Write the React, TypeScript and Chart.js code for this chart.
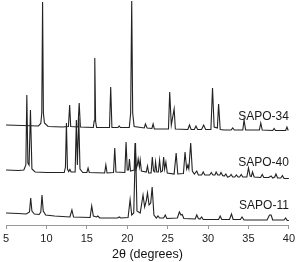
import React, { useEffect, useRef } from "react";
import { Chart, registerables } from "chart.js";

Chart.register(...registerables);

// 2θ (degrees), intensity (a.u., stacked display offsets included)
const sapo34: [number, number][] = [
  [5, 100], [7, 99.5], [9.0, 99], [9.3, 101.5], [9.42, 112], [9.52, 223], [9.62, 112], [9.75, 102], [10.2, 98.5],
  [12.0, 98], [12.72, 98.5], [12.87, 120], [13.0, 98.5], [13.9, 98], [14.05, 122], [14.2, 98],
  [15.8, 97.5], [15.9, 104], [15.98, 167], [16.08, 104], [16.2, 97.5], [17.8, 97.5], [17.95, 138], [18.1, 97.5],
  [18.85, 97.5], [19.0, 99], [19.15, 97.5],
  [20.25, 97.5], [20.42, 112], [20.55, 224], [20.67, 112], [20.85, 98.5], [22.1, 97], [22.25, 101], [22.45, 97],
  [23.05, 96.5], [23.2, 101], [23.35, 96], [25.1, 96], [25.25, 133], [25.45, 100], [25.8, 116], [25.95, 96],
  [27.5, 95.5], [27.7, 100], [27.9, 95.5], [28.3, 95.5], [28.5, 99], [28.7, 95.5], [29.2, 95.5], [29.45, 100],
  [29.7, 95.5], [30.35, 95.5], [30.55, 137], [30.75, 98], [31.15, 97], [31.3, 121], [31.5, 95.5], [32.0, 95],
  [32.85, 95], [33.05, 97], [33.25, 95], [34.3, 95], [34.45, 105], [34.65, 95], [36.35, 95], [36.52, 102],
  [36.7, 95], [38.0, 94.5], [38.17, 96.5], [38.35, 94.5], [39.6, 94.5], [39.76, 98], [39.92, 94.5], [40, 94.5],
];

const sapo40: [number, number][] = [
  [5, 55], [6.5, 54.5], [7.2, 55], [7.45, 60], [7.57, 130], [7.7, 62], [7.85, 60], [8.02, 115], [8.2, 56],
  [8.6, 53], [10, 52.5], [12.2, 52.5], [12.35, 58], [12.47, 102], [12.6, 56], [12.75, 53.5], [12.9, 55.5],
  [13.05, 53], [13.55, 53], [13.7, 105], [13.82, 60], [13.9, 60], [14.0, 107], [14.15, 56], [14.5, 52.5],
  [15.0, 52.5], [15.15, 57], [15.3, 52.5], [17.2, 52], [17.35, 60], [17.5, 52], [18.3, 52.5], [18.45, 77],
  [18.6, 53], [19.7, 52.5], [19.85, 83], [20.0, 55], [20.15, 55], [20.27, 66], [20.4, 54], [20.85, 55],
  [20.97, 82], [21.1, 56], [21.25, 60], [21.35, 66], [21.5, 58], [21.6, 65], [21.75, 54], [22.35, 53],
  [22.5, 59], [22.65, 52], [22.95, 52], [23.1, 68], [23.25, 54], [23.4, 53], [23.5, 63], [23.65, 53],
  [23.85, 53], [24.0, 65], [24.15, 53], [24.35, 54], [24.5, 68], [24.62, 56], [24.78, 63], [24.95, 52],
  [25.8, 51], [26.05, 72], [26.25, 51], [26.95, 51.5], [27.15, 73], [27.35, 56], [27.5, 60], [27.62, 56],
  [27.85, 82], [28.05, 54], [28.3, 51], [28.6, 54], [28.8, 50], [29.2, 50], [29.4, 53], [29.6, 50],
  [30.2, 50], [30.4, 52.5], [30.6, 50], [30.85, 50], [31.0, 53], [31.2, 50], [31.45, 50], [31.6, 52.5],
  [31.8, 49.5], [32.0, 49], [32.2, 51], [32.4, 48], [32.65, 48.5], [32.85, 50.5], [33.05, 48], [33.3, 48],
  [33.5, 50], [33.7, 48], [33.9, 48], [34.1, 50.5], [34.3, 48], [34.8, 48], [35.0, 57], [35.2, 49],
  [35.35, 48.5], [35.5, 53], [35.7, 48], [36.5, 47.5], [36.7, 50.5], [36.9, 47.5], [37.5, 47.5], [37.8, 49],
  [38.0, 47], [38.25, 48], [38.4, 51], [38.6, 47], [39.0, 47], [39.2, 49.5], [39.4, 46.5], [40, 46.5],
];

const sapo11: [number, number][] = [
  [5, 12], [6.5, 11.5], [7.5, 11], [7.9, 13], [8.05, 27], [8.2, 14], [8.5, 11], [9.1, 10.5], [9.3, 13],
  [9.45, 30], [9.6, 14], [9.9, 10], [11, 9], [12.9, 8], [13.15, 15], [13.35, 8], [15.4, 7.5], [15.6, 19],
  [15.8, 9], [16.2, 8], [16.35, 9], [16.6, 7], [18.8, 7], [19.0, 8], [19.2, 7], [20.1, 7.5], [20.35, 25.5],
  [20.55, 10], [20.8, 12], [21.02, 82], [21.2, 14], [21.6, 12], [21.95, 30], [22.15, 18], [22.35, 24],
  [22.5, 32], [22.7, 20], [22.9, 22], [23.08, 38], [23.3, 10], [23.6, 7], [23.8, 9], [24.0, 7], [24.5, 7],
  [24.7, 10], [24.9, 6.5], [26.2, 7], [26.45, 13], [26.65, 10], [26.8, 10.5], [27.0, 6.5], [28.4, 6],
  [28.6, 10], [28.8, 6.5], [29.0, 6], [29.2, 8], [29.4, 5.5], [31.3, 5.5], [31.5, 9], [31.7, 5.5],
  [32.65, 5.5], [32.9, 11], [33.1, 5.5], [34.0, 5.5], [34.2, 8], [34.45, 5], [37.3, 5], [37.6, 10],
  [37.8, 10], [38.0, 5], [39.4, 5], [39.6, 7], [39.8, 4.5], [40, 4.5],
];

const seriesNames = ["SAPO-34", "SAPO-40", "SAPO-11"];
const labelLevels = [108, 62, 19];
const xTicks = [5, 10, 15, 20, 25, 30, 35, 40];

const FONT = "'Liberation Sans', Arial, Helvetica, sans-serif";

export default function App() {
  const ref = useRef<HTMLCanvasElement>(null);

  useEffect(() => {
    if (!ref.current) return;
    const labelPlugin = {
      id: "seriesLabels",
      afterDatasetsDraw(chart: any) {
        const { ctx, scales } = chart;
        ctx.save();
        ctx.font = `12px ${FONT}`;
        ctx.fillStyle = "#1a1a1a";
        ctx.textAlign = "right";
        ctx.textBaseline = "middle";
        seriesNames.forEach((n, i) => {
          ctx.fillText(n, scales.x.getPixelForValue(40), scales.y.getPixelForValue(labelLevels[i]));
        });
        ctx.restore();
      },
    };
    const toXY = (arr: [number, number][]) => arr.map(([x, y]) => ({ x, y }));
    const chart = new Chart(ref.current, {
      type: "line",
      data: {
        datasets: [sapo34, sapo40, sapo11].map((d, i) => ({
          label: seriesNames[i],
          data: toXY(d),
          borderColor: "#222222",
          borderWidth: 1.1,
          pointRadius: 0,
          tension: 0,
          fill: false,
        })),
      },
      options: {
        animation: false,
        responsive: false,
        layout: { padding: { left: 4, right: 8, top: 0, bottom: 1.3 } },
        plugins: { legend: { display: false }, tooltip: { enabled: false } },
        scales: {
          x: {
            type: "linear",
            min: 5,
            max: 40,
            afterBuildTicks: (scale: any) => {
              scale.ticks = xTicks.map((v) => ({ value: v }));
            },
            ticks: { font: { size: 11, family: FONT }, color: "#222", padding: 3, maxRotation: 0 },
            grid: { drawOnChartArea: false, drawTicks: true, tickLength: 4, color: "#999" },
            border: { color: "#999", width: 1 },
            title: {
              display: true,
              text: "2θ (degrees)",
              font: { size: 12.5, family: FONT, lineHeight: 1 },
              color: "#111",
              padding: { top: 0, bottom: 0 },
            },
          },
          y: { display: false, min: 0, max: 225 },
        },
      },
      plugins: [labelPlugin],
    } as any);
    return () => chart.destroy();
  }, []);

  return (
    <div style={{ position: "absolute", left: 0, top: 0, width: 298, height: 262 }}>
      <canvas ref={ref} width={298} height={262} style={{ width: 298, height: 262 }} />
    </div>
  );
}
